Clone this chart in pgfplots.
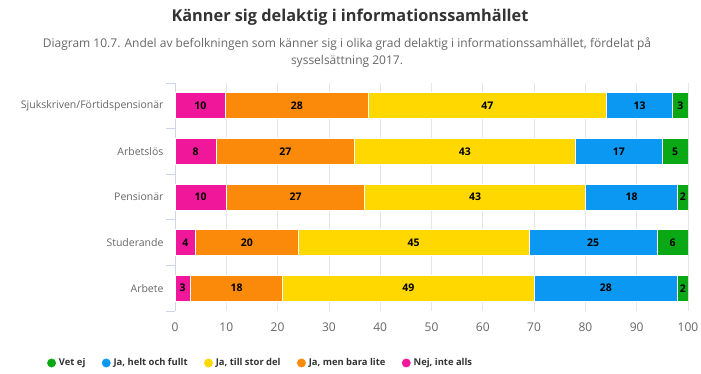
\documentclass[border=0pt]{standalone}
\usepackage{fontspec}
\setmainfont{Open Sans}
\usepackage{pgfplots}
\pgfplotsset{compat=1.18}
\usepackage{pgfplotstable}
\definecolor{cNej}{HTML}{F0179B}
\definecolor{cMen}{HTML}{FB8A0A}
\definecolor{cStor}{HTML}{FFD800}
\definecolor{cHelt}{HTML}{0A98F2}
\definecolor{cVet}{HTML}{0AA814}
\definecolor{txt}{HTML}{333333}
\definecolor{axtxt}{HTML}{666666}
\definecolor{gridc}{HTML}{E6E6E6}
\definecolor{axline}{HTML}{CCD6EB}
% y: 0 Arbete, 1 Studerande, 2 Pensionär, 3 Arbetslös, 4 Sjukskriven/Förtidspensionär
% w: share of bar (Sjukskriven normalised to 100), lab: printed value
\pgfplotstableread{
y w lab
0 3 3
1 4 4
2 10 10
3 8 8
4 9.90 10
}\tNej
\pgfplotstableread{
y w lab
0 18 18
1 20 20
2 27 27
3 27 27
4 27.72 28
}\tMen
\pgfplotstableread{
y w lab
0 49 49
1 45 45
2 43 43
3 43 43
4 46.53 47
}\tStor
\pgfplotstableread{
y w lab
0 28 28
1 25 25
2 18 18
3 17 17
4 12.87 13
}\tHelt
\pgfplotstableread{
y w lab
0 2 2
1 6 6
2 2 2
3 5 5
4 2.97 3
}\tVet
\begin{document}
\begin{tikzpicture}[x=1pt,y=1pt]
\useasboundingbox (0,0) rectangle (701,373);
\begin{axis}[
  at={(175pt,62pt)}, anchor=south west,
  scale only axis, width=513pt, height=228pt,
  xbar stacked, bar width=26pt,
  xmin=0, xmax=100, ymin=-0.5, ymax=4.5,
  xtick={0,10,...,100},
  /pgf/number format/assume math mode=true,
  xmajorgrids, grid style={gridc, line width=0.75pt},
  axis lines*=left,
  x axis line style={draw=none},
  y axis line style={axline, line width=0.75pt},
  major tick length=0pt,
  ytick={0,1,2,3,4},
  yticklabels={Arbete,Studerande,Pensionär,Arbetslös,Sjukskriven/Förtidspensionär},
  extra y ticks={-0.5,0.5,1.5,2.5,3.5,4.5},
  extra y tick labels={},
  extra y tick style={major tick length=9pt, tick align=outside, tick style={axline, line width=0.75pt}},
  x tick label style={font=\fontsize{12}{14}\selectfont, text=axtxt, yshift=-8pt},
  y tick label style={font=\fontsize{10.5}{13}\selectfont, text=axtxt, xshift=-8pt},
  nodes near coords,
  point meta=explicit symbolic,
  every node near coord/.append style={font=\bfseries\fontsize{10.5}{12}\selectfont, text=black, anchor=center},
  legend image code/.code={\fill (4pt,0pt) circle (5pt);},
  reverse legend,
  legend style={at={(0.166,-0.228)}, anchor=center, draw=none, fill=none,
    font=\bfseries\fontsize{9.4}{11}\selectfont, text=txt, legend columns=5,
    /tikz/every even column/.append style={column sep=13.5pt}},
  legend cell align=left,
]
\addplot[fill=cNej, draw=white, line width=0.75pt] table[x=w, y=y, meta=lab]{\tNej};
\addlegendentry{Nej, inte alls}
\addplot[fill=cMen, draw=white, line width=0.75pt] table[x=w, y=y, meta=lab]{\tMen};
\addlegendentry{Ja, men bara lite}
\addplot[fill=cStor, draw=white, line width=0.75pt] table[x=w, y=y, meta=lab]{\tStor};
\addlegendentry{Ja, till stor del}
\addplot[fill=cHelt, draw=white, line width=0.75pt] table[x=w, y=y, meta=lab]{\tHelt};
\addlegendentry{Ja, helt och fullt}
\addplot[fill=cVet, draw=white, line width=0.75pt] table[x=w, y=y, meta=lab]{\tVet};
\addlegendentry{Vet ej}
\end{axis}
\node[font=\bfseries\fontsize{16.3}{19}\selectfont, text=txt] at (350,356) {Känner sig delaktig i informationssamhället};
\node[font=\fontsize{12}{17}\selectfont, text=axtxt, align=center] at (347,320.5) {Diagram 10.7. Andel av befolkningen som känner sig i olika grad delaktig i informationssamhället, fördelat på\\sysselsättning 2017.};
\end{tikzpicture}
\end{document}
